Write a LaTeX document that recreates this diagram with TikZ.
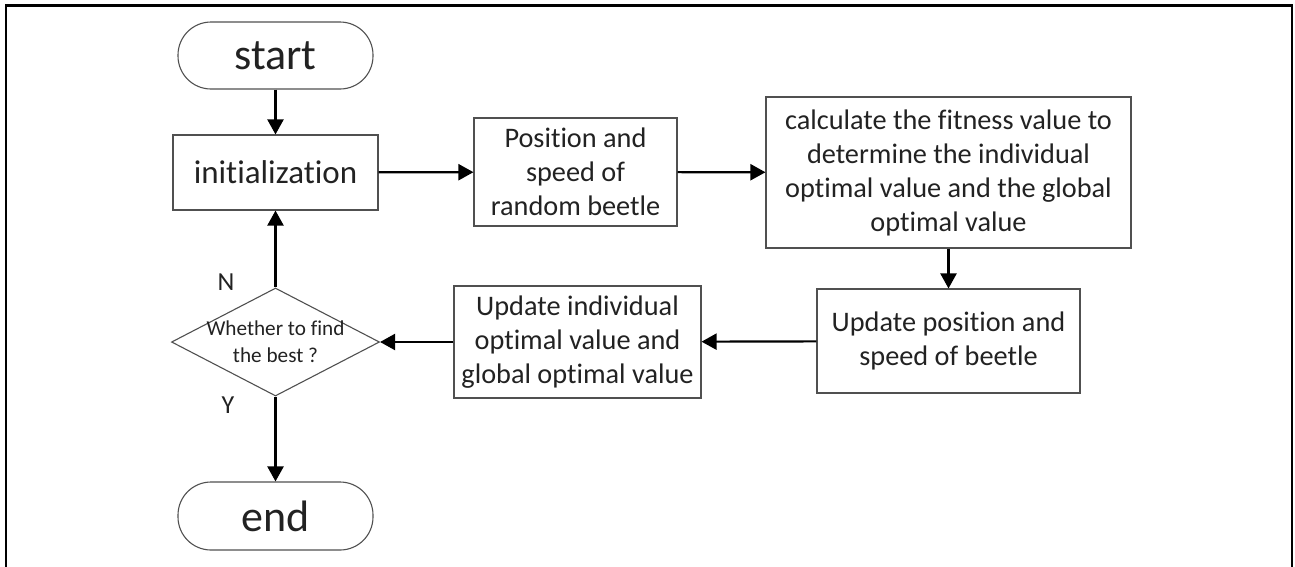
\documentclass[tikz,border=0pt]{standalone}
\usepackage{fontspec}
\setmainfont[Ligatures=NoCommon]{Carlito}
\usetikzlibrary{arrows.meta,shapes.geometric}
\definecolor{txt}{HTML}{222222}
\definecolor{edgec}{HTML}{505050}
\begin{document}
\begin{tikzpicture}[x=1pt,y=-1pt,
  box/.style={draw=edgec, line width=1.1pt, text=txt, align=center, inner sep=0pt,
              font=\fontsize{28.3}{34}\selectfont},
  term/.style={box, rounded corners=33pt, font=\fontsize{44}{50}\selectfont},
  link/.style={line width=2.2pt, -{Triangle[length=15pt,width=16pt]}},
  lbl/.style={text=txt, font=\fontsize{26}{30}\selectfont},
  frame/.style={line width=2.6pt, line cap=rect}
]
\useasboundingbox (0,0) rectangle (1295,566);
\draw[frame] (5.8,570) -- (5.8,5.3) -- (1292,5.3) -- (1292,570);

\node[term, minimum width=195pt, minimum height=67pt] (start) at (275.5,55.5) {start};
\node[box, minimum width=205pt, minimum height=75pt, font=\fontsize{33}{40}\selectfont] (init) at (275.5,172.5) {initialization};
\node[box, minimum width=203pt, minimum height=108pt] (pos) at (575.5,172) {Position and\\speed of\\random beetle};
\node[box, minimum width=365pt, minimum height=151pt] (calc) at (948.5,172.5) {calculate the fitness value to\\determine the individual\\optimal value and the global\\optimal value};
\node[box, minimum width=263pt, minimum height=104pt] (updpos) at (948.5,341) {Update position and\\speed of beetle};
\node[box, minimum width=247pt, minimum height=112pt] (updind) at (577.5,342) {Update individual\\optimal value and\\global optimal value};
\node[draw=edgec, line width=1.1pt, diamond, minimum width=208pt, minimum height=108pt, inner sep=0pt] (dec) at (275.5,342) {};
\node[text=txt, align=center, inner sep=0pt, font=\fontsize{21.2}{27}\selectfont] (dectxt) at (275.5,342) {Whether to find\\the best ?};
\node[term, minimum width=195pt, minimum height=68pt] (end) at (275.5,516) {end};

\node[lbl] (nl) at (226,282) {N};
\node[lbl] (yl) at (228,405) {Y};

\draw[link] (start) -- (init);
\draw[link] (init) -- (pos);
\draw[link] (pos) -- (calc);
\draw[link] (calc.south -| updpos.north) -- (updpos.north);
\draw[link] (updpos) -- (updind);
\draw[link] (updind.west) -- (dec.east);
\draw[link] (dec.north) -- (init.south);
\draw[link] (dec.south) -- (end.north);
\end{tikzpicture}
\end{document}
